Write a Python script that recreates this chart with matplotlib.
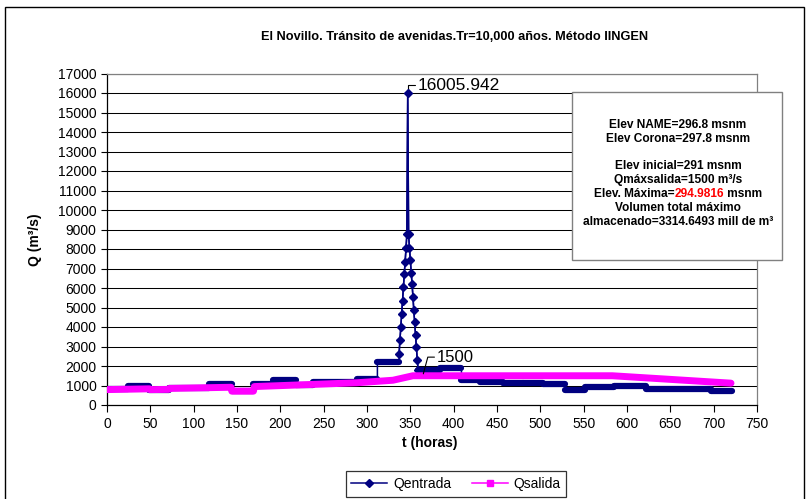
import matplotlib
matplotlib.use('Agg')
import matplotlib.pyplot as plt
from matplotlib.lines import Line2D
from matplotlib.patches import Rectangle

plt.rcParams['font.family'] = ['Liberation Sans', 'DejaVu Sans']

# ---------------- data ----------------
# Qentrada: flat (daily) steps before the flood
pre_start = [0, 24, 49, 71, 118, 144, 168, 191, 218, 238, 288, 312]
pre_end = [24, 49, 71, 118, 144, 168, 191, 218, 238, 288, 312, 337]
pre_q = [800, 960, 790, 870, 1100, 700, 1080, 1270, 1010, 1190, 1340, 2230]
# Qentrada: hourly flood hydrograph
peak_t = [337, 338, 339, 340, 341, 342, 343, 344, 345, 346, 347, 348,
          349, 350, 351, 352, 353, 354, 355, 356, 357, 358, 359]
peak_q = [2600, 3330, 3980, 4670, 5350, 6030, 6720, 7350, 8030, 8750, 16005.942,
          8750, 8030, 7440, 6790, 6210, 5560, 4870, 4240, 3590, 2960, 2310, 1800]
# Qentrada: flat steps after the flood
post_start = [359, 384, 409, 430, 457, 480, 503, 529, 552, 585, 622, 697]
post_end = [384, 409, 430, 457, 480, 503, 529, 552, 585, 622, 697, 721]
post_q = [1820, 1880, 1300, 1180, 1110, 1130, 1090, 770, 940, 960, 800, 740]

# Qsalida
sal_t = [0, 49, 50, 71, 72, 143, 144, 169, 170, 222, 288, 330, 341, 347, 353, 583, 720]
sal_q = [790, 830, 790, 800, 850, 910, 710, 710, 945, 1030, 1140, 1270, 1380, 1440, 1500, 1500, 1120]

x_ticks = list(range(0, 751, 50))
y_ticks = list(range(0, 17001, 1000))

title = "El Novillo. Tránsito de avenidas.Tr=10,000 años. Método IINGEN"
box_lines = ["Elev NAME=296.8 msnm", "Elev Corona=297.8 msnm", "",
             "Elev inicial=291 msnm", "Qmáxsalida=1500 m³/s", None,
             "Volumen total máximo", "almacenado=3314.6493 mill de m³"]

NAVY = '#000080'
MAG = '#FF00FF'

W, H = 811, 499
fig = plt.figure(figsize=(W / 100, H / 100), dpi=100)
fig.patch.set_facecolor('white')

ax = fig.add_axes([107 / W, 1 - 405 / H, 650 / W, 331.5 / H])
ax.set_xlim(0, 750)
ax.set_ylim(0, 17000)
ax.set_xticks(x_ticks)
ax.set_yticks(y_ticks)
ax.tick_params(axis='both', labelsize=10, direction='out', length=4, width=0.8, color='black')
ax.tick_params(axis='x', length=5)
for y in y_ticks[1:]:
    ax.axhline(y, color='black', lw=0.75, zorder=1)
ax.spines['left'].set_color('black')
ax.spines['bottom'].set_color('black')
ax.spines['right'].set_color('#808080')
ax.spines['top'].set_color('#808080')
for s in ax.spines.values():
    s.set_linewidth(0.9)

# Qentrada: thin connecting line through all steps
conn_t, conn_q = [], []
for s, e, q in zip(pre_start, pre_end, pre_q):
    conn_t += [s, e]
    conn_q += [q, q]
conn_t += peak_t
conn_q += peak_q
for s, e, q in zip(post_start, post_end, post_q):
    conn_t += [s, e]
    conn_q += [q, q]
ax.plot(conn_t, conn_q, color=NAVY, lw=1.1, zorder=3)
# merged hourly markers -> thick flat segments
hl1 = ax.hlines(pre_q, pre_start, pre_end, color=NAVY, lw=4.5, zorder=3)
hl2 = ax.hlines(post_q, post_start, post_end, color=NAVY, lw=4.5, zorder=3)
hl1.set_capstyle('round')
hl2.set_capstyle('round')
ax.plot(peak_t, peak_q, color=NAVY, lw=1.1, marker='D', ms=4, zorder=4)

# Qsalida (drawn on top, as in the original)
ax.plot(sal_t, sal_q, color=MAG, lw=5, solid_joinstyle='round', solid_capstyle='round', zorder=6)

# data labels
ax.annotate('16005.942', xy=(347, 16005.942), xytext=(7, 5.5), textcoords='offset points',
            fontsize=12.5, ha='left', va='center',
            arrowprops=dict(arrowstyle='-', lw=0.8, color='black', shrinkA=0, shrinkB=0,
                            connectionstyle='angle,angleA=0,angleB=90,rad=0'))
ax.annotate('1500', xy=(365, 1600), xytext=(10, 12), textcoords='offset points',
            fontsize=12, ha='left', va='center', zorder=8,
            arrowprops=dict(arrowstyle='-', lw=0.8, color='black', shrinkA=0, shrinkB=0,
                            connectionstyle='angle,angleA=0,angleB=75,rad=0', zorder=8))

# titles
fig.text(455 / W, 1 - 37 / H, title, fontsize=9.2, fontweight='bold', ha='center', va='center')
fig.text(35 / W, 1 - 240 / H, 'Q (m³/s)', fontsize=10, fontweight='bold',
         rotation=90, ha='center', va='center')
fig.text(430 / W, 1 - 443 / H, 't (horas)', fontsize=10, fontweight='bold',
         ha='center', va='center')

# info box
fig.add_artist(Rectangle((572 / W, 1 - 260 / H), 210 / W, 168 / H, transform=fig.transFigure,
                         facecolor='white', edgecolor='#808080', lw=1.0, zorder=10))
cx = 678
line_y = [125, 139, 152, 166, 180, 194, 208, 222]
r = fig.canvas.get_renderer()
fs_box = 8.6
for s, yy in zip(box_lines, line_y):
    if s is None:
        parts = [("Elev. Máxima=", 'black'), ("294.9816", '#FF0000'), (" msnm", 'black')]
        ts = [fig.text(0, 1 - yy / H, p, color=c, fontsize=fs_box, fontweight='bold',
                       ha='left', va='center', zorder=11) for p, c in parts]
        ws = [t.get_window_extent(r).width for t in ts]
        x0 = cx - sum(ws) / 2
        for t, w in zip(ts, ws):
            t.set_x(x0 / W)
            x0 += w
    elif s:
        fig.text(cx / W, 1 - yy / H, s, fontsize=fs_box, fontweight='bold',
                 ha='center', va='center', zorder=11)

# legend
handles = [Line2D([], [], color=NAVY, lw=1.1, marker='D', ms=4),
           Line2D([], [], color=MAG, lw=1.1, marker='s', ms=5)]
leg = fig.legend(handles, ['Qentrada', 'Qsalida'], loc='center', ncol=2,
                 bbox_to_anchor=(456 / W, 1 - 484 / H), fontsize=10, frameon=True,
                 fancybox=False, edgecolor='black', handlelength=2.6, columnspacing=1.5,
                 borderpad=0.4, handletextpad=0.4)
leg.get_frame().set_linewidth(0.9)

# outer chart border
fig.add_artist(Rectangle((5 / W, -0.02), 799 / W, (492 / H) + 0.02, transform=fig.transFigure,
                         facecolor='none', edgecolor='black', lw=1.0, zorder=0))

fig.savefig('out.png', dpi=100)
